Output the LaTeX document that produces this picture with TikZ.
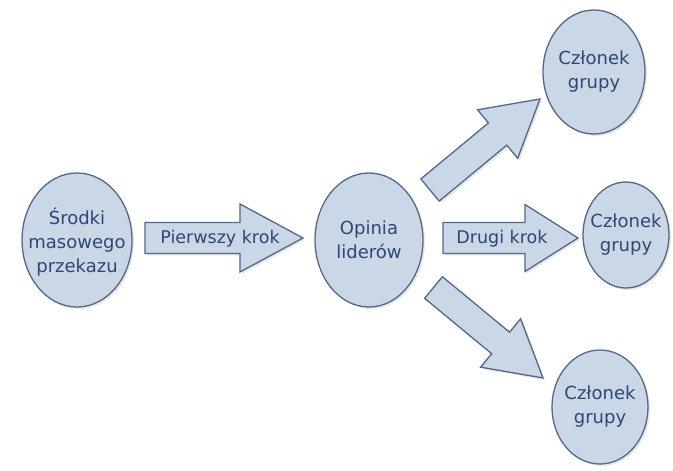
\documentclass[tikz,border=0pt]{standalone}
\usepackage{fontspec}
\setmainfont{DejaVu Sans}
\usetikzlibrary{shapes.geometric,calc,shadows}
\definecolor{fillblue}{HTML}{C9D7E7}
\definecolor{edgeblue}{HTML}{566885}
\definecolor{textblue}{HTML}{2E4774}
\tikzset{
  bubble/.style={ellipse, draw=edgeblue, fill=fillblue, line width=1.3pt, inner sep=0pt,
    drop shadow={opacity=0.18, shadow xshift=2pt, shadow yshift=-2pt}},
  bubbletext/.style={text=textblue, align=center, inner sep=0pt, font=\fontsize{18}{24}\selectfont},
  arrowshape/.style={draw=edgeblue, fill=fillblue, line width=1.3pt, line join=miter,
    drop shadow={opacity=0.18, shadow xshift=2pt, shadow yshift=-2pt}},
  arrowlabel/.style={text=textblue, font=\fontsize{17.5}{23}\selectfont, inner sep=0pt}
}
\newcommand\blockarrow[5]{%
  \coordinate (ba-h) at ($(#2)!#5!(#1)$);
  \draw[arrowshape] ($(#1)!#3!90:(#2)$) -- ($(ba-h)!#3!-90:(#1)$) -- ($(ba-h)!#4!-90:(#1)$)
    -- (#2) -- ($(ba-h)!#4!90:(#1)$) -- ($(ba-h)!#3!90:(#1)$) -- ($(#1)!#3!-90:(#2)$) -- cycle;}
\begin{document}
\begin{tikzpicture}[x=1pt,y=-1pt]
\useasboundingbox[fill=white] (0,0) rectangle (673,471);
% bubbles
\node[bubble, minimum width=110pt, minimum height=134pt] (media) at (77,240) {};
\node[bubble, minimum width=108pt, minimum height=134pt] (leaders) at (369,240) {};
\node[bubble, minimum width=102pt, minimum height=124pt] (g1) at (594,72) {};
\node[bubble, minimum width=86pt, minimum height=106pt] (g2) at (626,235) {};
\node[bubble, minimum width=96pt, minimum height=114pt] (g3) at (600,407) {};
\node[bubbletext] (mediatext) at ([yshift=-2pt]media.center) {Środki\\masowego\\przekazu};
\node[bubbletext] (leaderstext) at (leaders.center) {Opinia\\liderów};
\node[bubbletext] (g1text) at (g1.center) {Członek\\grupy};
\node[bubbletext] (g2text) at (g2.center) {Członek\\grupy};
\node[bubbletext] (g3text) at (g3.center) {Członek\\grupy};
% arrow end points
\coordinate (a1t) at (145,238); \coordinate (a1p) at (303,238);
\coordinate (a2t) at (443,238); \coordinate (a2p) at (578,238);
\coordinate (a3t) at (430,190); \coordinate (a3p) at (540,99);
\coordinate (a4t) at (433.5,287.5); \coordinate (a4p) at (543,378);
\blockarrow{a1t}{a1p}{15.5pt}{34pt}{63pt}
\blockarrow{a2t}{a2p}{15.5pt}{33.5pt}{53pt}
\blockarrow{a3t}{a3p}{14.4pt}{31.5pt}{55pt}
\blockarrow{a4t}{a4p}{14pt}{31.4pt}{55pt}
\node[arrowlabel] (l1) at (220,239) {Pierwszy krok};
\node[arrowlabel] (l2) at (502,239) {Drugi krok};
\end{tikzpicture}
\end{document}
